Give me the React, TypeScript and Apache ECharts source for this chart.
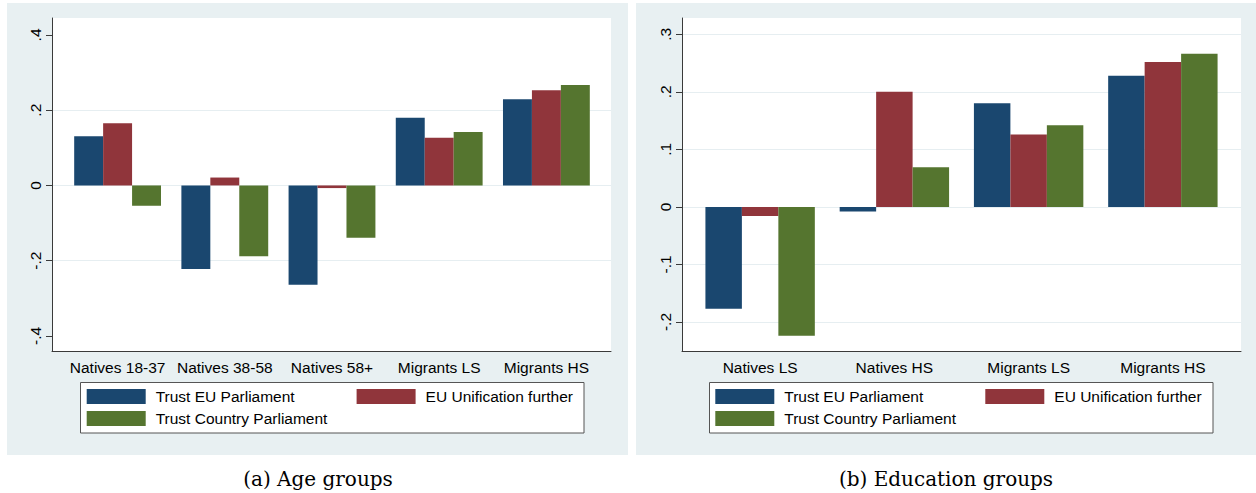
import React, { useEffect, useRef } from "react";
import * as echarts from "echarts";

const ageCategories = ["Natives 18-37", "Natives 38-58", "Natives 58+", "Migrants LS", "Migrants HS"];
const ageTrustEU = [0.131, -0.222, -0.264, 0.18, 0.229];
const ageUnification = [0.165, 0.021, -0.007, 0.127, 0.253];
const ageTrustCountry = [-0.054, -0.188, -0.139, 0.142, 0.267];

const eduCategories = ["Natives LS", "Natives HS", "Migrants LS", "Migrants HS"];
const eduTrustEU = [-0.177, -0.008, 0.18, 0.228];
const eduUnification = [-0.016, 0.2, 0.126, 0.252];
const eduTrustCountry = [-0.224, 0.069, 0.142, 0.266];

const ageTicks = [-0.4, -0.2, 0, 0.2, 0.4];
const eduTicks = [-0.2, -0.1, 0, 0.1, 0.2, 0.3];
const seriesNames = ["Trust EU Parliament", "EU Unification further", "Trust Country Parliament"];
const captions = ["(a) Age groups", "(b) Education groups"];

const COLORS = ["#1a476f", "#90353b", "#55752f"];
const BG = "#e8f0f2";
const GRIDLINE = "#e6eef1";
const AXIS = "#3a3a3a";
const SANS = '"Liberation Sans", Arial, sans-serif';
const FS = 15.5;

function fmt(v: number): string {
  const r = Math.round(v * 100) / 100;
  if (r === 0) return "0";
  return String(r).replace("0.", ".");
}

type PanelCfg = {
  frameLeft: number;
  barsLeft: number;
  barsWidth: number;
  min: number;
  max: number;
  ticks: number[];
  gridColors: string[];
  categories: string[];
  values: number[][];
  gap: string;
};

function buildPanel(p: PanelCfg, gi: number) {
  const top = 18;
  const height = 333;
  const grids = [
    { left: p.frameLeft, top, width: 559, height, show: true, backgroundColor: "#ffffff", borderWidth: 0 },
    { left: p.barsLeft, top, width: p.barsWidth, height, show: false },
  ];
  const xAxes = [
    {
      gridIndex: gi,
      type: "value",
      min: 0,
      max: 1,
      axisLine: { show: true, onZero: false, lineStyle: { color: AXIS, width: 1 } },
      axisTick: { show: false },
      axisLabel: { show: false },
      splitLine: { show: false },
    },
    {
      gridIndex: gi + 1,
      type: "category",
      data: p.categories,
      axisLine: { show: false, onZero: false },
      axisTick: { show: false },
      axisLabel: { interval: 0, margin: 8, fontSize: FS, color: "#000", fontFamily: SANS },
      splitLine: { show: false },
    },
  ];
  const yAxes = [
    {
      gridIndex: gi,
      type: "value",
      min: p.min,
      max: p.max,
      axisLine: { show: true, onZero: false, lineStyle: { color: AXIS, width: 1 } },
      axisTick: { show: true, length: 6, customValues: p.ticks, lineStyle: { color: AXIS, width: 1 } },
      axisLabel: {
        customValues: p.ticks,
        rotate: 90,
        margin: 9,
        fontSize: FS,
        color: "#000",
        fontFamily: SANS,
        formatter: (v: number) => fmt(v),
      },
      splitLine: { show: true, lineStyle: { color: p.gridColors, width: 1 } },
    },
    {
      gridIndex: gi + 1,
      type: "value",
      min: p.min,
      max: p.max,
      show: false,
      splitLine: { show: false },
    },
  ];
  const series = p.values.map((vals, i) => ({
    type: "bar",
    name: seriesNames[i],
    xAxisIndex: gi + 1,
    yAxisIndex: gi + 1,
    data: vals,
    barGap: "0%",
    barCategoryGap: p.gap,
    itemStyle: { color: COLORS[i] },
    emphasis: { disabled: true },
  }));
  return { grids, xAxes, yAxes, series };
}

function legendItem(name: string, left: number, top: number) {
  return {
    data: [name],
    left,
    top,
    padding: 0,
    itemWidth: 59,
    itemHeight: 15,
    icon: "rect",
    selectedMode: false,
    orient: "horizontal",
    textStyle: { fontSize: FS, color: "#000", fontFamily: SANS, padding: [0, 0, 0, 5] },
  };
}

export default function App() {
  const ref = useRef<HTMLDivElement>(null);
  useEffect(() => {
    if (!ref.current) return;
    const chart = echarts.init(ref.current, undefined, { renderer: "svg" });
    const left = buildPanel(
      {
        frameLeft: 52,
        barsLeft: 64,
        barsWidth: 536,
        min: -0.44,
        max: 0.445,
        ticks: ageTicks,
        gridColors: ["rgba(0,0,0,0)", GRIDLINE, GRIDLINE, GRIDLINE, "rgba(0,0,0,0)"],
        categories: ageCategories,
        values: [ageTrustEU, ageUnification, ageTrustCountry],
        gap: "19%",
      },
      0
    );
    const right = buildPanel(
      {
        frameLeft: 682,
        barsLeft: 693,
        barsWidth: 537,
        min: -0.2504,
        max: 0.3283,
        ticks: eduTicks,
        gridColors: [GRIDLINE],
        categories: eduCategories,
        values: [eduTrustEU, eduUnification, eduTrustCountry],
        gap: "18.5%",
      },
      2
    );
    const option: any = {
      animation: false,
      grid: [...left.grids, ...right.grids],
      xAxis: [...left.xAxes, ...right.xAxes],
      yAxis: [...left.yAxes, ...right.yAxes],
      series: [...left.series, ...right.series],
      legend: [
        legendItem(seriesNames[0], 86.7, 388.5),
        legendItem(seriesNames[1], 356.6, 388.5),
        legendItem(seriesNames[2], 86.7, 410.5),
        legendItem(seriesNames[0], 715.3, 388.5),
        legendItem(seriesNames[1], 985.3, 388.5),
        legendItem(seriesNames[2], 715.3, 410.5),
      ],
      graphic: [
        { type: "rect", z: -10, shape: { x: 7, y: 3, width: 621, height: 452 }, style: { fill: BG } },
        { type: "rect", z: -10, shape: { x: 636, y: 3, width: 620, height: 452 }, style: { fill: BG } },
        {
          type: "rect",
          z: 1,
          shape: { x: 80.5, y: 382.5, width: 503.5, height: 50.5 },
          style: { fill: "#fff", stroke: "#555", lineWidth: 1 },
        },
        {
          type: "rect",
          z: 1,
          shape: { x: 709.5, y: 382.5, width: 503.5, height: 50.5 },
          style: { fill: "#fff", stroke: "#555", lineWidth: 1 },
        },
        {
          type: "text",
          x: 318,
          y: 479,
          style: {
            text: captions[0],
            fill: "#000",
            fontSize: 20,
            fontFamily: '"DejaVu Serif", serif',
            align: "center",
            verticalAlign: "middle",
          },
        },
        {
          type: "text",
          x: 946,
          y: 479,
          style: {
            text: captions[1],
            fill: "#000",
            fontSize: 20,
            fontFamily: '"DejaVu Serif", serif',
            align: "center",
            verticalAlign: "middle",
          },
        },
      ],
    };
    chart.setOption(option);
    return () => chart.dispose();
  }, []);
  return (
    <div
      ref={ref}
      style={{ position: "absolute", left: 0, top: 0, width: 1256, height: 493, background: "#fff" }}
    />
  );
}
